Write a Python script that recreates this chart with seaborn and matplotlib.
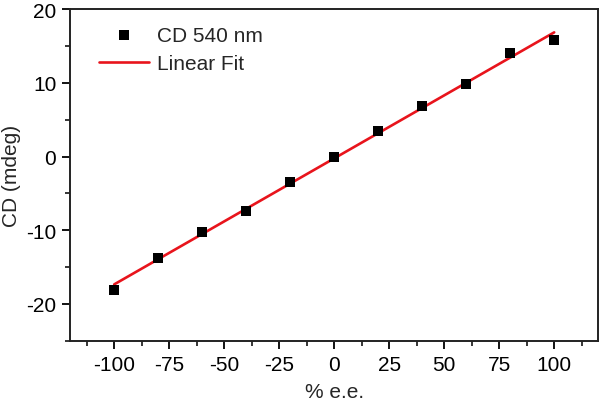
import numpy as np
import pandas as pd
import seaborn as sns
import matplotlib
matplotlib.use("Agg")
import matplotlib.pyplot as plt
from matplotlib.ticker import MultipleLocator

ee = [-100, -80, -60, -40, -20, 0, 20, 40, 60, 80, 100]
cd = [-18.1, -13.7, -10.2, -7.4, -3.4, 0.0, 3.5, 6.9, 9.9, 14.0, 15.8]
xticks = [-100, -75, -50, -25, 0, 25, 50, 75, 100]
yticks = [-20, -10, 0, 10, 20]

sns.set_theme(style="ticks")
plt.rcParams['font.family'] = ['Liberation Sans', 'DejaVu Sans']
plt.rcParams['axes.unicode_minus'] = False

df = pd.DataFrame({"ee": ee, "cd": cd})
slope, intercept = np.polyfit(df["ee"], df["cd"], 1)
fit = pd.DataFrame({"ee": [min(ee), max(ee)]})
fit["cd"] = slope * fit["ee"] + intercept

fig, ax = plt.subplots(figsize=(6.0, 4.06), dpi=100)
fig.subplots_adjust(left=0.117, right=0.997, top=0.975, bottom=0.158)

sns.scatterplot(data=df, x="ee", y="cd", marker="s", s=48, color="black",
                edgecolor="black", linewidth=0, ax=ax, label="CD 540 nm", zorder=3)
sns.lineplot(data=fit, x="ee", y="cd", color="#e8141c", linewidth=1.9, ax=ax,
             label="Linear Fit", zorder=2)

ax.set_xlim(-120, 120)
ax.set_ylim(-25, 20)
ax.set_xticks(xticks)
ax.set_yticks(yticks)
ax.xaxis.set_minor_locator(MultipleLocator(12.5))
ax.yaxis.set_minor_locator(MultipleLocator(5))
ax.tick_params(which="major", direction="out", length=6, width=1.3, labelsize=15,
               colors="black", pad=4)
ax.tick_params(which="minor", direction="out", length=3.5, width=1.3)
ax.tick_params(axis="x", which="both", top=False)
ax.tick_params(axis="y", which="both", right=False)
for s in ax.spines.values():
    s.set_visible(True)
    s.set_linewidth(1.4)
    s.set_color("#222222")

ax.set_xlabel("% e.e.", fontsize=15, labelpad=6)
ax.set_ylabel("CD (mdeg)", fontsize=15, labelpad=4)

leg = ax.legend(loc="upper left", frameon=False, fontsize=15,
                bbox_to_anchor=(0.055, 0.95), handlelength=2.4, handletextpad=0.35,
                borderaxespad=0, borderpad=0, labelspacing=0.45)

fig.savefig("out.png", dpi=100)
